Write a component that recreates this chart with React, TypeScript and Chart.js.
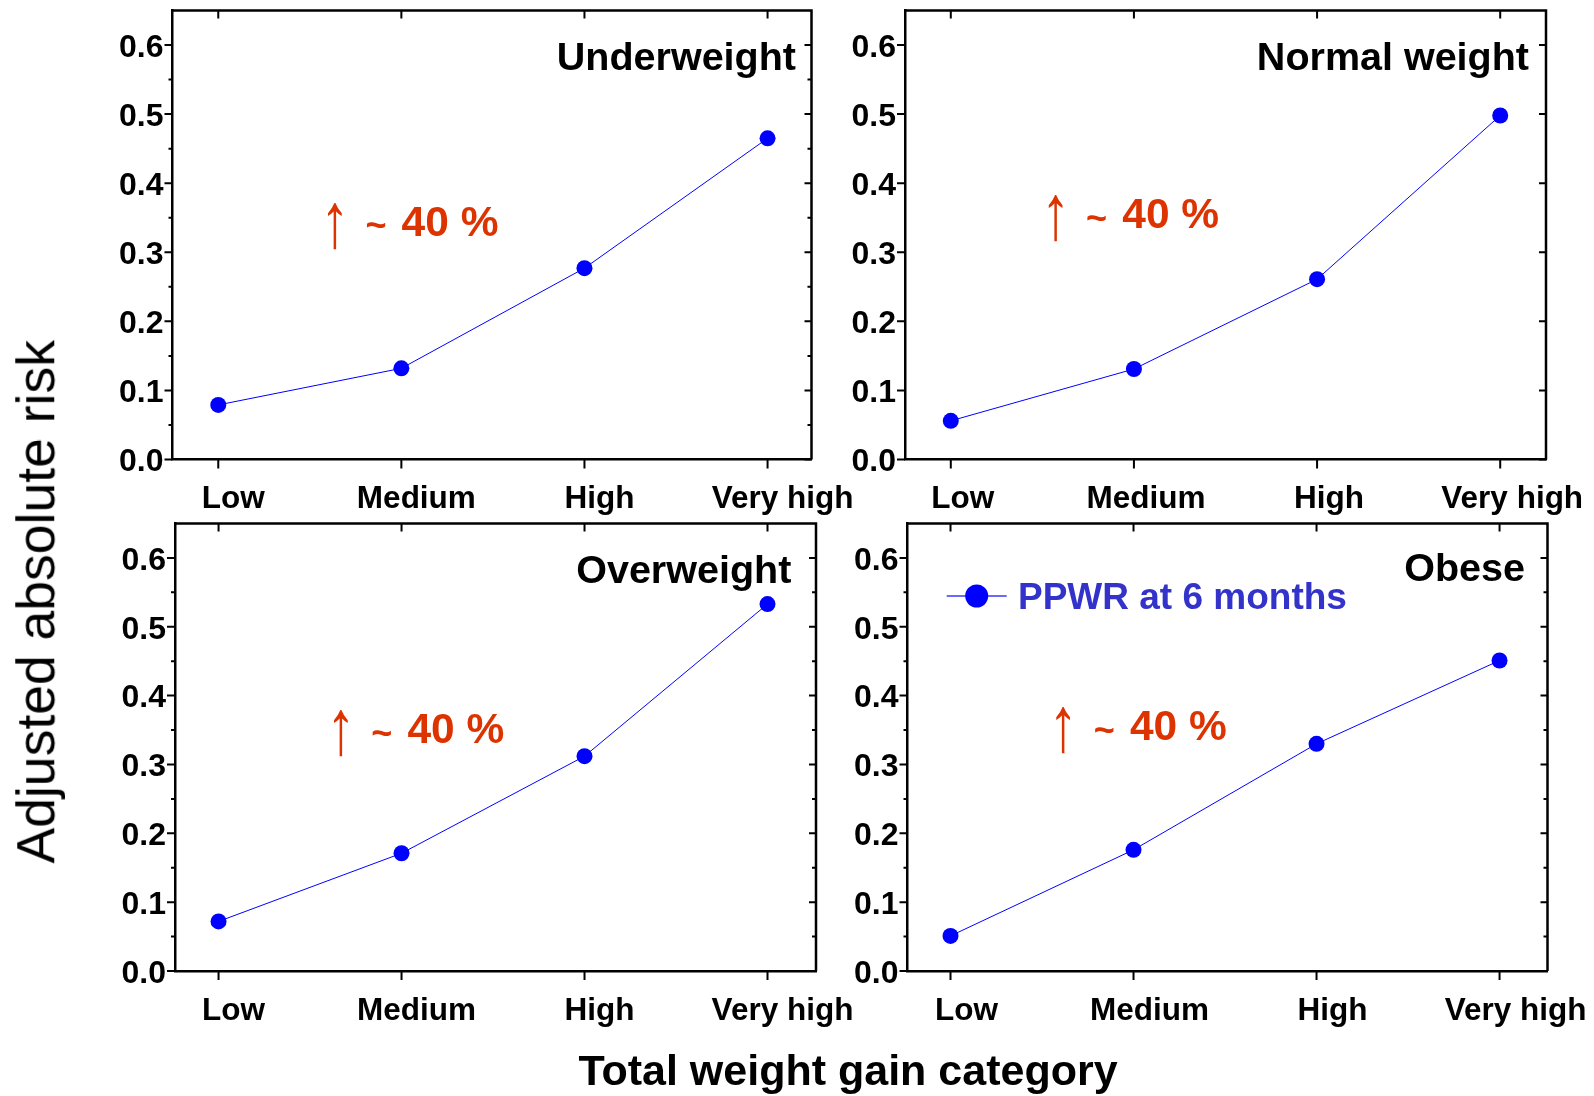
import { useEffect, useRef } from "react";
import { Chart, registerables } from "chart.js";

Chart.register(...registerables);

// ---- data ----
const categories = ["Low", "Medium", "High", "Very high"];
const underweightRisk = [0.079, 0.132, 0.277, 0.465];
const normalWeightRisk = [0.056, 0.131, 0.261, 0.498];
const overweightRisk = [0.072, 0.171, 0.312, 0.533];
const obeseRisk = [0.051, 0.176, 0.33, 0.451];
const yTickValues = [0, 0.1, 0.2, 0.3, 0.4, 0.5, 0.6];
const seriesLabel = "PPWR at 6 months";
const panelTitles = ["Underweight", "Normal weight", "Overweight", "Obese"];
const noteArrow = "\u2191";
const noteTilde = "~";
const noteValue = "40 %";
const yAxisTitle = "Adjusted absolute risk";
const xAxisTitle = "Total weight gain category";

const FONT = '"Liberation Sans", Arial, Helvetica, sans-serif';
const RED = "#dc3300";
const BLUE = "#0000ff";
const LEGEND_TEXT = "#3333cc";

type PanelCfg = {
  title: string;
  values: number[];
  left: number;
  top: number;
  width: number;
  height: number;
  yAxisW: number;
  xAxisH: number;
  padTop: number;
  padRight: number;
  xMin: number;
  xMax: number;
  labelShift: number;
  titleInset: number;
  titleDrop: number;
  note: { x: number; y: number };
  minorTicks: boolean;
  legend: boolean;
};

const panels: PanelCfg[] = [
  {
    title: panelTitles[0], values: underweightRisk,
    left: 40, top: 0, width: 830, height: 520,
    yAxisW: 132.5, xAxisH: 60.5, padTop: 10.5, padRight: 58.5,
    xMin: -0.25, xMax: 3.24, labelShift: 15, titleInset: 15.5, titleDrop: 59.5,
    note: { x: 0.637, y: 0.3445 }, minorTicks: true, legend: false,
  },
  {
    title: panelTitles[1], values: normalWeightRisk,
    left: 840, top: 0, width: 754, height: 520,
    yAxisW: 65, xAxisH: 60.5, padTop: 10.5, padRight: 48,
    xMin: -0.25, xMax: 3.25, labelShift: 12, titleInset: 17, titleDrop: 59.5,
    note: { x: 0.572, y: 0.3547 }, minorTicks: false, legend: false,
  },
  {
    title: panelTitles[2], values: overweightRisk,
    left: 40, top: 515, width: 830, height: 545,
    yAxisW: 135, xAxisH: 89, padTop: 8.5, padRight: 54,
    xMin: -0.238, xMax: 3.265, labelShift: 15, titleInset: 24.7, titleDrop: 59.2,
    note: { x: 0.668, y: 0.3515 }, minorTicks: true, legend: false,
  },
  {
    title: panelTitles[3], values: obeseRisk,
    left: 840, top: 515, width: 754, height: 545,
    yAxisW: 67.5, xAxisH: 89, padTop: 8.5, padRight: 46.5,
    xMin: -0.235, xMax: 3.262, labelShift: 16, titleInset: 22.5, titleDrop: 57.2,
    note: { x: 0.616, y: 0.356 }, minorTicks: true, legend: true,
  },
];

// Frame, tick marks, panel title, "40 %" note and in-plot legend
const panelDecor = {
  id: "panelDecor",
  afterDraw(chart: any) {
    const cfg: PanelCfg = chart.options.plugins.panelDecor.cfg;
    const { ctx, chartArea: a, scales } = chart;
    const xs = scales.x;
    const ys = scales.y;
    ctx.save();

    // top and right frame lines
    ctx.strokeStyle = "#000";
    ctx.lineWidth = 2.5;
    ctx.beginPath();
    ctx.moveTo(a.left, a.top);
    ctx.lineTo(a.right, a.top);
    ctx.lineTo(a.right, a.bottom);
    ctx.stroke();

    // tick marks
    ctx.lineWidth = 2;
    ctx.beginPath();
    categories.forEach((_, i) => {
      const px = xs.getPixelForValue(i);
      ctx.moveTo(px, a.bottom);
      ctx.lineTo(px, a.bottom + 9);
      ctx.moveTo(px, a.top);
      ctx.lineTo(px, a.top + 8);
    });
    yTickValues.forEach((v) => {
      const py = ys.getPixelForValue(v);
      ctx.moveTo(a.left - 8, py);
      ctx.lineTo(a.left, py);
      ctx.moveTo(a.right - 7, py);
      ctx.lineTo(a.right, py);
    });
    if (cfg.minorTicks) {
      for (let i = 0; i < yTickValues.length - 1; i++) {
        const py = ys.getPixelForValue((yTickValues[i] + yTickValues[i + 1]) / 2);
        ctx.moveTo(a.left - 4, py);
        ctx.lineTo(a.left, py);
        ctx.moveTo(a.right - 4, py);
        ctx.lineTo(a.right, py);
      }
    }
    ctx.stroke();

    // panel title
    ctx.fillStyle = "#000";
    ctx.font = `bold 39.5px ${FONT}`;
    ctx.textAlign = "right";
    ctx.textBaseline = "alphabetic";
    ctx.fillText(cfg.title, a.right - cfg.titleInset, a.top + cfg.titleDrop);

    // increase note: slim arrow, tilde and percentage
    const nx = xs.getPixelForValue(cfg.note.x);
    const ny = ys.getPixelForValue(cfg.note.y);
    ctx.fillStyle = RED;
    ctx.textAlign = "center";
    ctx.textBaseline = "middle";
    ctx.save();
    ctx.translate(nx, ny + 3.5);
    ctx.scale(0.75, 1);
    ctx.font = `normal 78px ${FONT}`;
    ctx.fillText(noteArrow, 0, 0);
    ctx.restore();
    ctx.font = `bold 36px ${FONT}`;
    ctx.fillText(noteTilde, nx + 41, ny + 6);
    ctx.textAlign = "left";
    ctx.textBaseline = "alphabetic";
    ctx.font = `bold 42.5px ${FONT}`;
    ctx.fillText(noteValue, nx + 66.7, ny + 14);

    // legend
    if (cfg.legend) {
      const ds = chart.data.datasets[0];
      const ly = a.top + 72.5;
      ctx.strokeStyle = "#6a6aff";
      ctx.lineWidth = 2;
      ctx.beginPath();
      ctx.moveTo(a.left + 39.2, ly);
      ctx.lineTo(a.left + 99.2, ly);
      ctx.stroke();
      ctx.fillStyle = BLUE;
      ctx.beginPath();
      ctx.arc(a.left + 69.2, ly, 11.5, 0, Math.PI * 2);
      ctx.fill();
      ctx.fillStyle = LEGEND_TEXT;
      ctx.font = `bold 37px ${FONT}`;
      ctx.textAlign = "left";
      ctx.textBaseline = "alphabetic";
      ctx.fillText(ds.label, a.left + 110.5, a.top + 85);
    }
    ctx.restore();
  },
};

function Panel({ cfg }: { cfg: PanelCfg }) {
  const ref = useRef<HTMLCanvasElement | null>(null);

  useEffect(() => {
    if (!ref.current) return;
    const chart = new Chart(ref.current, {
      type: "line",
      data: {
        datasets: [
          {
            label: seriesLabel,
            data: cfg.values.map((v, i) => ({ x: i, y: v })),
            borderColor: BLUE,
            borderWidth: 1,
            backgroundColor: BLUE,
            pointRadius: 8,
            pointHoverRadius: 8,
            pointBackgroundColor: BLUE,
            pointBorderWidth: 0,
            fill: false,
            tension: 0,
          },
        ],
      },
      options: {
        responsive: false,
        animation: false,
        events: [],
        layout: {
          autoPadding: false,
          padding: { left: 0, top: cfg.padTop, right: cfg.padRight, bottom: 0 },
        },
        plugins: {
          legend: { display: false },
          tooltip: { enabled: false },
          panelDecor: { cfg },
        } as any,
        scales: {
          x: {
            type: "linear",
            min: cfg.xMin,
            max: cfg.xMax,
            afterBuildTicks: (s: any) => {
              s.ticks = categories.map((_, i) => ({ value: i }));
            },
            afterFit: (s: any) => {
              s.height = cfg.xAxisH;
              s.paddingLeft = 0;
              s.paddingRight = 0;
              s.paddingTop = 0;
              s.paddingBottom = 0;
            },
            grid: { display: false, drawTicks: false },
            border: { display: true, color: "#000", width: 2.5 },
            ticks: {
              autoSkip: false,
              maxRotation: 0,
              minRotation: 0,
              padding: 21,
              labelOffset: cfg.labelShift,
              color: "#000",
              font: { family: FONT, size: 31.5, weight: "bold" },
              callback: (v: any) => categories[Math.round(Number(v))] ?? "",
            },
          },
          y: {
            type: "linear",
            min: 0,
            max: 0.65,
            afterBuildTicks: (s: any) => {
              s.ticks = yTickValues.map((v) => ({ value: v }));
            },
            afterFit: (s: any) => {
              s.width = cfg.yAxisW;
              s.paddingLeft = 0;
              s.paddingRight = 0;
              s.paddingTop = 0;
              s.paddingBottom = 0;
            },
            grid: { display: false, drawTicks: false },
            border: { display: true, color: "#000", width: 2.5 },
            ticks: {
              padding: 9,
              labelOffset: 3,
              color: "#000",
              font: { family: FONT, size: 32, weight: "bold" },
              callback: (v: any) => Number(v).toFixed(1),
            },
          },
        },
      } as any,
      plugins: [panelDecor],
    });
    return () => chart.destroy();
  }, [cfg]);

  return (
    <canvas
      ref={ref}
      width={cfg.width}
      height={cfg.height}
      style={{
        position: "absolute",
        left: cfg.left,
        top: cfg.top,
        width: cfg.width,
        height: cfg.height,
        display: "block",
      }}
    />
  );
}

export default function App() {
  return (
    <div
      style={{
        position: "absolute",
        left: 0,
        top: 0,
        width: 1594,
        height: 1096,
        background: "#fff",
        overflow: "hidden",
        fontFamily: FONT,
        color: "#000",
      }}
    >
      {panels.map((p) => (
        <Panel key={p.title} cfg={p} />
      ))}
      <div
        style={{
          position: "absolute",
          left: 36 - 350,
          top: 601.5 - 26.75,
          width: 700,
          height: 53.5,
          fontSize: 53.5,
          lineHeight: "53.5px",
          textAlign: "center",
          whiteSpace: "nowrap",
          transform: "rotate(-90deg)",
          transformOrigin: "50% 50%",
        }}
      >
        {yAxisTitle}
      </div>
      <div
        style={{
          position: "absolute",
          left: 848 - 400,
          top: 1085 - 0.8465 * 43,
          width: 800,
          fontSize: 43,
          lineHeight: "43px",
          fontWeight: "bold",
          textAlign: "center",
          whiteSpace: "nowrap",
        }}
      >
        {xAxisTitle}
      </div>
    </div>
  );
}
